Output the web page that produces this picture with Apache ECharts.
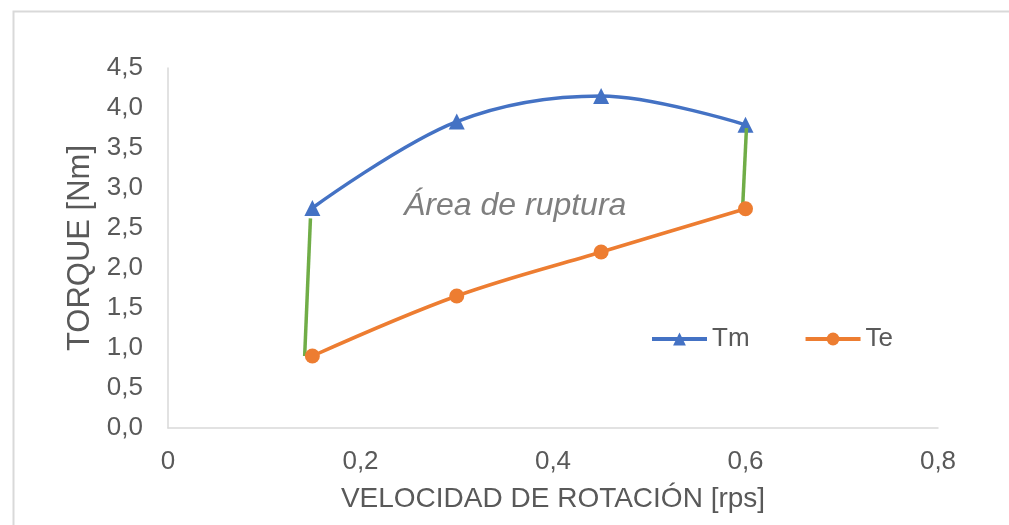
<!DOCTYPE html>
<html>
<head>
<meta charset="utf-8">
<script src="https://cdn.jsdelivr.net/npm/echarts@6/dist/echarts.min.js"></script>
<style>
  html, body { margin: 0; padding: 0; background: #ffffff; }
  #chart { width: 1009px; height: 525px; }
</style>
</head>
<body>
<div id="chart"></div>
<script>
// Rotation speed [rps]
var speed = [0.15, 0.30, 0.45, 0.60];
// Motor torque Tm [Nm]
var tm = [2.75, 3.83, 4.15, 3.79];
// Load torque Te [Nm]
var te = [0.90, 1.65, 2.20, 2.74];
// Vertical boundary segments closing the rupture area
var boundaryLeft = [[0.148, 2.62], [0.142, 0.90]];
var boundaryRight = [[0.601, 3.75], [0.597, 2.75]];
// Axis tick labels (comma decimal)
var xTickLabels = ['0', '0,2', '0,4', '0,6', '0,8'];
var yTickLabels = ['0,0', '0,5', '1,0', '1,5', '2,0', '2,5', '3,0', '3,5', '4,0', '4,5'];
var areaLabel = 'Área de ruptura';

function pairs(xs, ys) {
  return xs.map(function (x, i) { return [x, ys[i]]; });
}

var font = 'Liberation Sans, Arial, sans-serif';
var textColor = '#595959';

var chart = echarts.init(document.getElementById('chart'), null, { renderer: 'canvas' });
chart.setOption({
  backgroundColor: '#ffffff',
  animation: false,
  grid: { left: 168, right: 71, top: 68, bottom: 97, containLabel: false },
  legend: {
    data: ['Tm', 'Te'],
    left: 650,
    top: 326,
    padding: 0,
    itemWidth: 55,
    itemHeight: 16,
    itemGap: 54,
    lineStyle: { width: 4 },
    textStyle: { fontFamily: font, fontSize: 26, color: textColor }
  },
  graphic: [
    {
      type: 'rect',
      left: 11, top: 9,
      shape: { width: 997, height: 530 },
      style: { fill: 'none', stroke: '#D9D9D9', lineWidth: 2 },
      silent: true
    },
    {
      type: 'text',
      x: 404, y: 206,
      style: {
        text: areaLabel,
        fontFamily: font, fontSize: 32, fontStyle: 'italic',
        fill: '#7F7F7F',
        align: 'left',
        verticalAlign: 'middle'
      }
    }
  ],
  xAxis: {
    type: 'value',
    min: 0, max: 0.8, interval: 0.2,
    name: 'VELOCIDAD DE ROTACIÓN [rps]',
    nameLocation: 'middle',
    nameGap: 57,
    nameTextStyle: { fontFamily: font, fontSize: 28, color: textColor },
    axisLine: { show: true, lineStyle: { color: '#D9D9D9', width: 1.5 } },
    axisTick: { show: false },
    splitLine: { show: false },
    axisLabel: {
      margin: 21,
      fontFamily: font, fontSize: 26, color: textColor,
      formatter: function (v) { return xTickLabels[Math.round(v / 0.2)]; }
    }
  },
  yAxis: {
    type: 'value',
    min: 0, max: 4.5, interval: 0.5,
    name: 'TORQUE [Nm]',
    nameLocation: 'middle',
    nameGap: 68,
    nameRotate: 90,
    nameTextStyle: { fontFamily: font, fontSize: 31, color: textColor },
    axisLine: { show: true, lineStyle: { color: '#D9D9D9', width: 1.5 } },
    axisTick: { show: false },
    splitLine: { show: false },
    axisLabel: {
      margin: 25,
      fontFamily: font, fontSize: 26, color: textColor,
      formatter: function (v) { return yTickLabels[Math.round(v / 0.5)]; }
    }
  },
  series: [
    {
      name: 'Tm',
      type: 'line',
      data: pairs(speed, tm),
      smooth: 0.35,
      symbol: 'triangle',
      symbolSize: 16,
      lineStyle: { color: '#4472C4', width: 3.5 },
      itemStyle: { color: '#4472C4' },
      z: 2
    },
    {
      name: 'boundaryLeft',
      type: 'line',
      data: boundaryLeft,
      symbol: 'none',
      lineStyle: { color: '#70AD47', width: 3.5 },
      z: 3
    },
    {
      name: 'boundaryRight',
      type: 'line',
      data: boundaryRight,
      symbol: 'none',
      lineStyle: { color: '#70AD47', width: 3.5 },
      z: 3
    },
    {
      name: 'Te',
      type: 'line',
      data: pairs(speed, te),
      smooth: 0.35,
      symbol: 'circle',
      symbolSize: 15,
      lineStyle: { color: '#ED7D31', width: 3.5 },
      itemStyle: { color: '#ED7D31' },
      z: 4
    }
  ]
});
</script>
</body>
</html>
